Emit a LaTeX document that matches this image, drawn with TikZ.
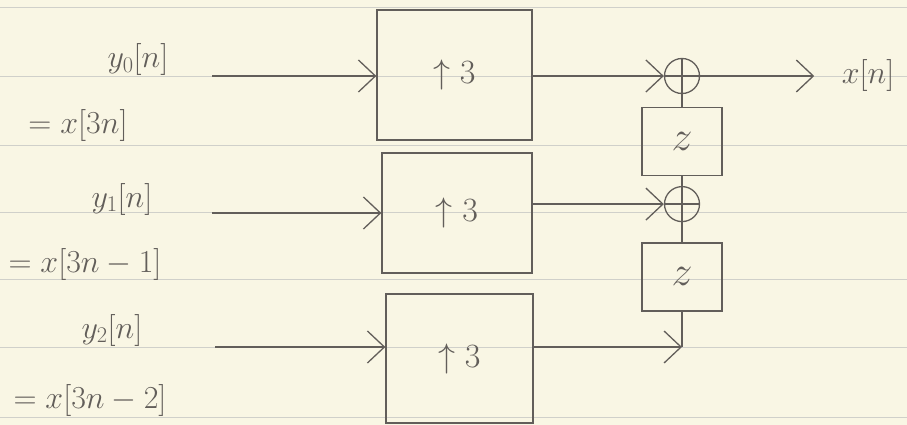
\RequirePackage{fix-cm}
\documentclass[tikz,border=0pt]{standalone}
\usetikzlibrary{positioning,arrows.meta}
\usepackage{amsmath}
\usepackage{xcolor}
\definecolor{pencil}{RGB}{98,94,90}
\definecolor{paper}{RGB}{249,246,228}
\definecolor{ruling}{RGB}{208,208,202}

\begin{document}
\begin{tikzpicture}[
      x=1pt, y=-1pt,
      node distance=12pt,
      every node/.style={text=pencil, font=\fontsize{32}{38}\selectfont},
      wire/.style={draw=pencil, line width=1.3pt},
      arr/.style={wire, -{Straight Barb[length=17pt, width=32pt]}},
      upbox/.style={draw=pencil, line width=1.3pt, inner sep=0pt, font=\fontsize{34}{40}\selectfont},
      delay/.style={draw=pencil, line width=1.3pt, minimum width=80pt, minimum height=68pt, inner sep=0pt,
        font=\fontsize{42}{48}\selectfont},
      adder/.style={circle, draw=pencil, line width=1.3pt, minimum size=35pt, inner sep=0pt,
        path picture={\draw[pencil, line width=1.3pt]
          (path picture bounding box.north) -- (path picture bounding box.south)
          (path picture bounding box.west) -- (path picture bounding box.east);}},
    ]
    \fill[paper] (0,0) rectangle (907,425);
    \useasboundingbox (0,0) rectangle (907,425);
    \foreach \ly in {7,76,145,212,279,347,417}
      \draw[ruling, line width=0.8pt] (0,\ly) -- (907,\ly);

    \node[upbox, minimum width=155pt, minimum height=130pt] (up0) at (454.5,75)  {$\uparrow 3$};
    \node[upbox, minimum width=150pt, minimum height=120pt] (up1) at (457,213)   {$\uparrow 3$};
    \node[upbox, minimum width=147pt, minimum height=129pt] (up2) at (459.5,358.5) {$\uparrow 3$};

    \node[adder]                        (sum0) at (682,76) {};
    \node[delay, below=13pt of sum0]    (del0) {$z$};
    \node[adder, below=9.5pt of del0]   (sum1) {};
    \node[delay, below=20pt of sum1]    (del1) {$z$};
    \node                               (xn)   at (868,76) {$x[n]$};

    \node[anchor=base] (y0) at (138,68)  {$y_0[n]$};
    \node[anchor=base] (x0) at (78,133)  {$=x[3n]$};
    \node[anchor=base] (y1) at (122,207) {$y_1[n]$};
    \node[anchor=base] (x1) at (85,272)  {$=x[3n-1]$};
    \node[anchor=base] (y2) at (112,338) {$y_2[n]$};
    \node[anchor=base] (x2) at (90,408)  {$=x[3n-2]$};

    \coordinate (in0) at (212,76);
    \coordinate (in1) at (212,213);
    \coordinate (in2) at (215,347);
    \coordinate (join) at (del1.south |- in2);

    \draw[arr] (in0) -- (in0 -| up0.west);
    \draw[arr] (in1) -- (in1 -| up1.west);
    \draw[arr] (in2) -- (in2 -| up2.west);
    \draw[arr] (up0.east |- sum0) -- (sum0.west);
    \draw[arr] (up1.east |- sum1) -- (sum1.west);
    \draw[arr] (up2.east |- join) -- (join);
    \draw[wire] (sum0) -- (del0);
    \draw[wire] (del0) -- (sum1);
    \draw[wire] (sum1) -- (del1);
    \draw[wire] (del1) -- (join);
    \draw[arr, shorten >=24pt] (sum0.east) -- (xn.west);
  \end{tikzpicture}
\end{document}
